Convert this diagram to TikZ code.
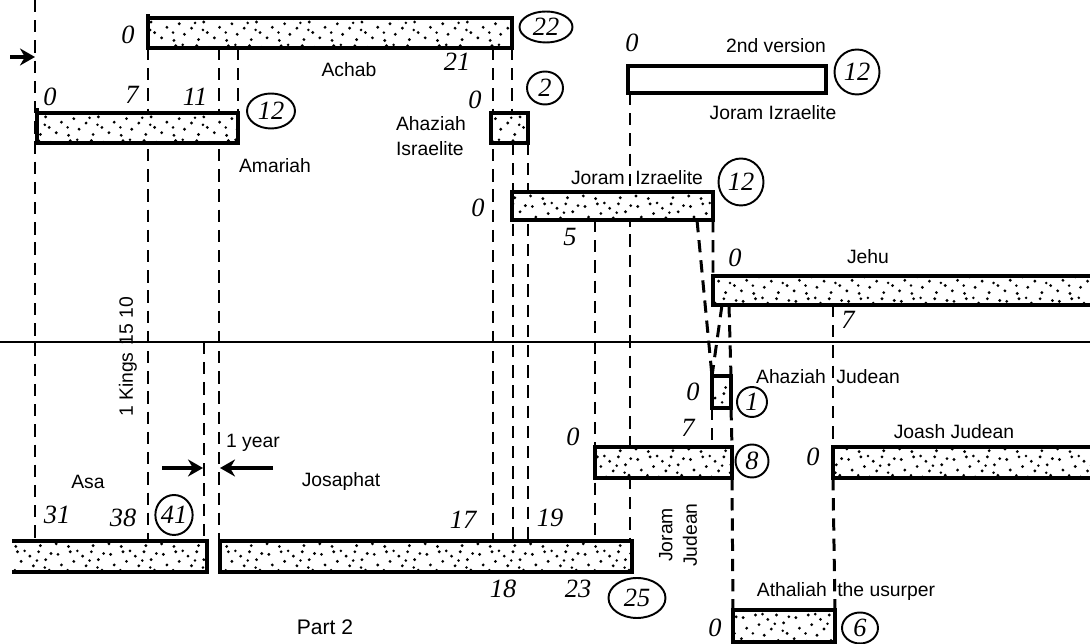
\documentclass[tikz,border=0pt]{standalone}
\usepackage{fontspec}
\newfontfamily\lblfont{Liberation Sans}
\newfontfamily\handfont{Liberation Serif}
\usepackage{tikz}
\usetikzlibrary{arrows.meta,positioning,fit,backgrounds,patterns,shapes.geometric}
\pgfdeclarepatternformonly{stipple}{\pgfqpoint{-1pt}{-1pt}}{\pgfqpoint{31pt}{19pt}}{\pgfqpoint{30pt}{18pt}}{%
  \pgfpathcircle{\pgfqpoint{2pt}{3pt}}{0.9pt}%
  \pgfpathcircle{\pgfqpoint{9pt}{1.5pt}}{0.9pt}%
  \pgfpathcircle{\pgfqpoint{15pt}{5pt}}{0.9pt}%
  \pgfpathcircle{\pgfqpoint{23pt}{2pt}}{0.9pt}%
  \pgfpathcircle{\pgfqpoint{28pt}{6pt}}{0.9pt}%
  \pgfpathcircle{\pgfqpoint{5pt}{9pt}}{0.9pt}%
  \pgfpathcircle{\pgfqpoint{12pt}{11pt}}{0.9pt}%
  \pgfpathcircle{\pgfqpoint{19pt}{8.5pt}}{0.9pt}%
  \pgfpathcircle{\pgfqpoint{26pt}{12pt}}{0.9pt}%
  \pgfpathcircle{\pgfqpoint{3pt}{15pt}}{0.9pt}%
  \pgfpathcircle{\pgfqpoint{10pt}{16.5pt}}{0.9pt}%
  \pgfpathcircle{\pgfqpoint{17pt}{14pt}}{0.9pt}%
  \pgfpathcircle{\pgfqpoint{22pt}{16.5pt}}{0.9pt}%
  \pgfpathcircle{\pgfqpoint{29pt}{15.5pt}}{0.9pt}%
  \pgfpathcircle{\pgfqpoint{8.5pt}{6pt}}{0.8pt}%
  \pgfpathcircle{\pgfqpoint{21pt}{11.5pt}}{0.8pt}%
  \pgfpathcircle{\pgfqpoint{14pt}{17pt}}{0.8pt}%
  \pgfpathcircle{\pgfqpoint{25.5pt}{7.5pt}}{0.8pt}%
  \pgfusepath{fill}%
}
\newcommand\numfont{\handfont\fontsize{15}{15}\selectfont\itshape}
\newcommand\lblsize{\lblfont\fontsize{11}{14}\selectfont}
\tikzset{
  reign/.style={draw,line width=1.9pt,fill=white,postaction={pattern=stipple},inner sep=0pt,outer sep=0pt},
  openreign/.style={reign,draw=none},
  emptyreign/.style={draw,line width=1.9pt,fill=white,inner sep=0pt,outer sep=0pt},
  barline/.style={line width=1.9pt},
  guide/.style={line width=1.7pt,dash pattern=on 7pt off 4.5pt},
  yrs/.style={ellipse,draw,line width=1.1pt,inner sep=0pt,font=\numfont},
  num/.style={font=\numfont,inner sep=1pt},
  lbl/.style={font=\lblsize,inner sep=1pt},
  yeararrow/.style={-{Stealth[length=3mm,width=3.4mm]},line width=1.8pt},
}

\begin{document}
\begin{tikzpicture}[x=0.02cm,y=-0.02cm]
  \useasboundingbox (0,0) rectangle (1090,644);
  % Israel, above the line
  \node[reign,fit={(148,18) (512,48)}] (achab) {};
  \node[reign,fit={(37,113) (238,143)}] (amariah) {};
  \node[reign,fit={(491,113) (528,143)}] (ahaziahI) {};
  \node[emptyreign,fit={(628,66) (826,93)}] (joramII) {};
  \node[reign,fit={(512,192) (713,220)}] (joramI) {};
  \node[openreign,fit={(713,276) (1090,305)}] (jehu) {};
  \draw[barline] (jehu.north east) -- (jehu.north west) -- (jehu.south west) -- (jehu.south east);
  % Judah, below the line
  \node[reign,fit={(712,376) (731,408)}] (ahaziahJ) {};
  \node[reign,fit={(595,447) (732,478)}] (joramJ) {};
  \node[openreign,fit={(833,447) (1090,478)}] (joashJ) {};
  \draw[barline] (joashJ.north east) -- (joashJ.north west) -- (joashJ.south west) -- (joashJ.south east);
  \node[reign,fit={(733,610) (835,642)}] (athaliah) {};
  \node[openreign,fit={(12,541) (207,572)}] (asa) {};
  \draw[barline] (asa.north west) -- (asa.north east) -- (asa.south east) -- (asa.south west);
  \node[reign,fit={(220,541) (632,572)}] (josaphat) {};
  % start ticks
  \draw[barline] (achab.north west) -- ++(0,-4);
  \draw[barline] (amariah.north west) -- ++(0,-5);
  \draw[barline] (ahaziahJ.north west) -- ++(0,-7);

  \coordinate (ax) at (0,342);
  \coordinate (axe) at (1090,342);
  \draw[line width=1.3pt] (ax) -- (axe);

  \begin{scope}[on background layer]
    \coordinate (top35) at (35,0);
    \draw[guide] (top35) -- (asa.north -| top35);
    \foreach \x/\a/\b in {148/achab/asa,219/achab/josaphat,493/achab/josaphat,513/ahaziahI/josaphat,528/ahaziahI/josaphat,595/joramI/josaphat,630/joramII/josaphat}
      \draw[guide] (\a.south -| \x,0) -- (\b.north -| \x,0);
    \draw[guide] (achab.south -| amariah.north east) -- (amariah.north east);
    \draw[guide] (achab.south east) -- (ahaziahI.north -| achab.south east);
    \draw[guide] (ax -| 204,0) -- (asa.north -| 204,0);
    \draw[guide] (joramI.south -| 697,0) -- (ahaziahJ.north west);
    \draw[guide] (joramI.south east) -- (jehu.north west);
    \draw[guide] (jehu.south -| 722,0) -- (ahaziahJ.north west);
    \draw[guide] (jehu.south -| 729,0) -- (ahaziahJ.north east);
    \draw[guide] (ahaziahJ.south west) -- (joramJ.north -| ahaziahJ.south west);
    \draw[guide] (ahaziahJ.south east) -- (joramJ.north east);
    \draw[guide] (joramJ.south east) -- (athaliah.north west);
    \draw[guide] (jehu.south -| joashJ.west) -- (joashJ.north west);
    \draw[guide] (joashJ.south west) -- (athaliah.north east);
  \end{scope}

  % arrows
  \coordinate (inarrow) at (10,57);
  \draw[yeararrow] (inarrow) -- (top35 |- inarrow);
  \coordinate (yrL) at (162,468);
  \coordinate (yrR) at (273,468);
  \draw[yeararrow] (yrL) -- (yrL -| 203,0);
  \draw[yeararrow] (yrR) -- (yrR -| josaphat.west);

  % circled lengths
  \node[yrs,minimum width=1.06cm,minimum height=0.62cm] (c22) at (546,27) {22};
  \node[yrs,minimum width=0.96cm,minimum height=0.7cm] (c12a) at (271,111) {12};
  \node[yrs,minimum width=0.72cm,minimum height=0.66cm] (c2) at (545,88) {2};
  \node[yrs,minimum width=0.9cm,minimum height=0.9cm] (c12b) at (857,72) {12};
  \node[yrs,minimum width=0.9cm,minimum height=0.94cm] (c12c) at (741,182) {12};
  \node[yrs,minimum width=0.6cm,minimum height=0.6cm] (c1) at (752,402) {1};
  \node[yrs,minimum width=0.66cm,minimum height=0.66cm] (c8) at (752,461) {8};
  \node[yrs,minimum width=0.64cm,minimum height=0.8cm] (c41) at (174,515) {41};
  \node[yrs,minimum width=1.14cm,minimum height=0.8cm] (c25) at (637,598) {25};
  \node[yrs,minimum width=0.72cm,minimum height=0.62cm] (c6) at (860,628) {6};

  % years
  \node[num] (n0achab) at (128,35) {0};
  \node[num] (n0amariah) at (50,97) {0};
  \node[num] (n7amariah) at (132,95) {7};
  \node[num] (n11amariah) at (195,97) {11};
  \node[num] (n21achab) at (457,62) {21};
  \node[num] (n0ahaziahI) at (475,100) {0};
  \node[num] (n0joramII) at (632,43) {0};
  \node[num] (n0joramI) at (478,208) {0};
  \node[num] (n5joramI) at (570,237) {5};
  \node[num] (n0jehu) at (735,258) {0};
  \node[num] (n7jehu) at (848,320) {7};
  \node[num] (n0ahaziahJ) at (693,392) {0};
  \node[num] (n0joramJ) at (573,437) {0};
  \node[num] (n7joramJ) at (688,428) {7};
  \node[num] (n0joash) at (813,457) {0};
  \node[num] (n0athaliah) at (715,628) {0};
  \node[num] (n31asa) at (57,515) {31};
  \node[num] (n38asa) at (123,518) {38};
  \node[num] (n17jos) at (463,520) {17};
  \node[num] (n19jos) at (550,518) {19};
  \node[num] (n18jos) at (503,589) {18};
  \node[num] (n23jos) at (578,589) {23};

  % names
  \node[lbl] (lachab) at (349,70) {Achab};
  \node[lbl] (lamariah) at (275,166) {Amariah};
  \node[lbl,align=left] (lahaziahI) at (431,136) {Ahaziah\\Israelite};
  \node[lbl] (lversion) at (776,46) {2nd version};
  \node[lbl] (ljoramII) at (773,113) {Joram Izraelite};
  \node[lbl] (ljoramI) at (637,178) {Joram\hspace{6pt}Izraelite};
  \node[lbl] (ljehu) at (868,257) {Jehu};
  \node[lbl] (lahaziahJ) at (828,377) {Ahaziah\hspace{6pt}Judean};
  \node[lbl] (ljoash) at (954,432) {Joash Judean};
  \node[lbl] (lathaliah) at (846,592) {Athaliah\hspace{6pt}the usurper};
  \node[lbl,rotate=90,align=center] (ljoramJ) at (678,535) {Joram\\Judean};
  \node[lbl] (lasa) at (88,482) {Asa};
  \node[lbl] (ljosaphat) at (341,482) {Josaphat};
  \node[lbl] (lyear) at (253,443) {1 year};
  \node[lbl,rotate=90] (lkings) at (128,357) {1 Kings\hspace{4pt}15 10};
  \node[lbl,font=\lblfont\fontsize{12}{14}\selectfont] (lpart) at (325,627) {Part 2};
\end{tikzpicture}
\end{document}
